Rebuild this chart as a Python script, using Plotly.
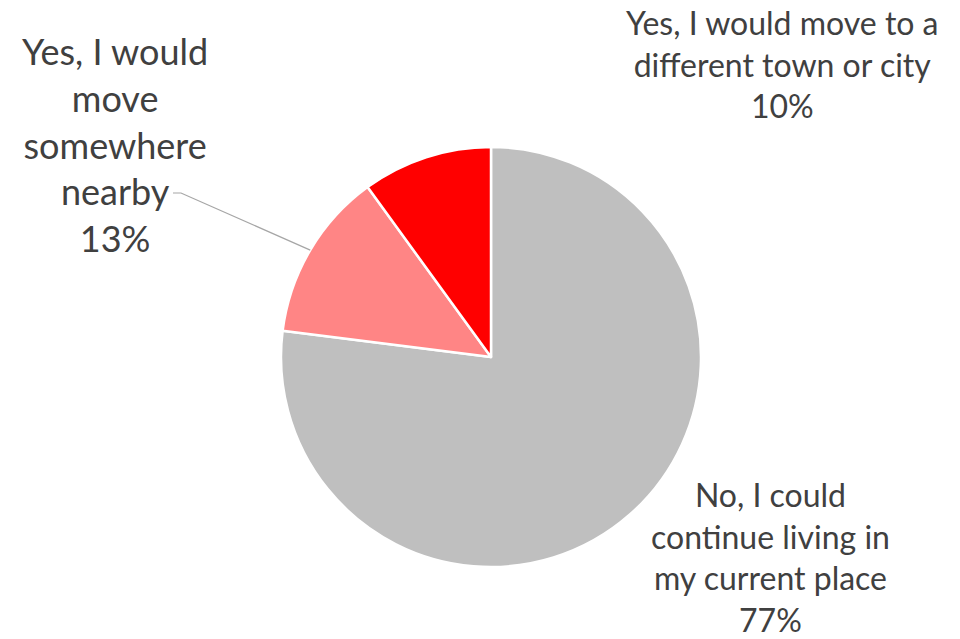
import math
import textwrap
import plotly.graph_objects as go

# Survey responses: would you need to move?
categories = [
    "No, I could continue living in my current place",
    "Yes, I would move somewhere nearby",
    "Yes, I would move to a different town or city",
]
shares = [77, 13, 10]
colors = ["#BFBFBF", "#FF8585", "#FF0000"]
wrap_widths = [18, 12, 22]

W, H = 960, 639
cx, cy, r = 491, 357, 210  # pie centre and radius in pixels

def px(x):
    return x / W

def py(y):
    return 1 - y / H

fig = go.Figure(
    go.Pie(
        labels=categories,
        values=shares,
        sort=False,
        direction="clockwise",
        rotation=0,
        marker=dict(colors=colors, line=dict(color="white", width=2.5)),
        textinfo="none",
        hoverinfo="label+percent",
        showlegend=False,
        domain=dict(x=[px(cx - r), px(cx + r)], y=[py(cy + r), py(cy - r)]),
    )
)

def label_text(i):
    lines = textwrap.wrap(categories[i], wrap_widths[i])
    return "<br>".join(lines + [f"{shares[i]}%"])

font_family = "Lato, 'Open Sans', sans-serif"
text_color = "#404040"

# label placement (pixel centres) and font size per slice
placements = [
    (770, 557, 32),
    (115, 145, 36),
    (782, 64, 32),
]
for i, (lx, ly, fs) in enumerate(placements):
    fig.add_annotation(
        x=px(lx), y=py(ly), xref="paper", yref="paper",
        text=label_text(i), showarrow=False, align="center",
        xanchor="center", yanchor="middle",
        font=dict(family=font_family, size=fs, color=text_color),
    )

# leader line from the "nearby" label to the middle of its slice
total = sum(shares)
mid_frac = (shares[0] + shares[1] / 2) / total
ang = 2 * math.pi * mid_frac
ex, ey = cx + r * math.sin(ang), cy - r * math.cos(ang)
fig.add_shape(
    type="path", xref="paper", yref="paper",
    path=f"M {px(173)} {py(193)} L {px(181)} {py(193)} L {px(ex)} {py(ey)}",
    line=dict(color="#A6A6A6", width=1.2),
)

fig.update_layout(
    width=W, height=H,
    margin=dict(l=0, r=0, t=0, b=0),
    paper_bgcolor="white",
    plot_bgcolor="white",
)

fig.write_html("out.html")
